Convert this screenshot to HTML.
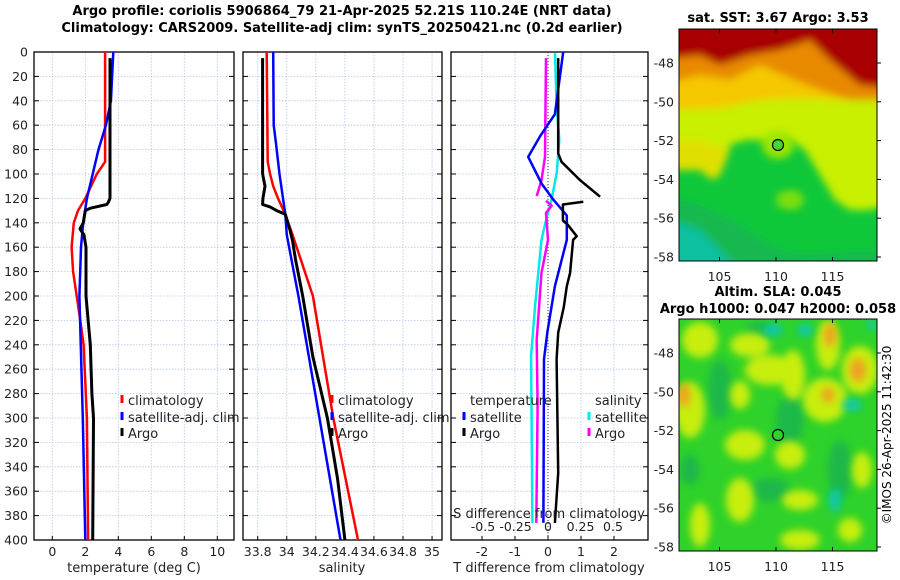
<!DOCTYPE html>
<html><head><meta charset="utf-8">
<style>
html,body{margin:0;padding:0;background:#fff;}
svg{display:block;font-family:"DejaVu Sans","Liberation Sans",sans-serif;}
</style></head>
<body>
<svg id="fig" width="900" height="580" viewBox="0 0 900 580" xmlns="http://www.w3.org/2000/svg">
<defs>
<filter id="blur1" x="-20%" y="-20%" width="140%" height="140%"><feGaussianBlur stdDeviation="4"/></filter>
<filter id="blur2" x="-20%" y="-20%" width="140%" height="140%"><feGaussianBlur stdDeviation="4"/></filter>
<clipPath id="m1clip"><rect x="679" y="29" width="198" height="232"/></clipPath>
<clipPath id="m2clip"><rect x="679" y="319" width="198" height="232"/></clipPath>
</defs>
<g font-weight="bold" font-size="13" text-anchor="middle">
<text x="342" y="15">Argo profile: coriolis 5906864_79 21-Apr-2025 52.21S 110.24E (NRT data)</text>
<text x="342" y="32">Climatology: CARS2009. Satellite-adj clim: synTS_20250421.nc (0.2d earlier)</text>
</g>
<g id="panels"></g>
<!-- Map 1: SST -->
<g>
<text x="778" y="22" text-anchor="middle" font-weight="bold" font-size="13">sat. SST: 3.67 Argo: 3.53</text>
<g clip-path="url(#m1clip)">
<rect x="679" y="29" width="198" height="232" fill="#0fc83a"/>
<g filter="url(#blur1)">
<path d="M660 160 L690 165 L700 150 L712 170 L720 175 L730 145 L745 140 L760 140 L775 145 L790 140 L805 150 L820 175 L835 200 L850 210 L865 210 L900 205 L900 0 L660 0 Z" fill="#c8f000"/>
<path d="M660 170 L700 170 L712 180 L720 175 L730 150 L700 140 L660 140 Z" fill="#e0e000"/>
<path d="M660 110 L720 108 L760 100 L800 98 L840 100 L900 100 L900 0 L660 0 Z" fill="#f5c800"/>
<path d="M660 85 L700 75 L730 80 L760 65 L790 78 L820 90 L850 100 L900 100 L900 0 L660 0 Z" fill="#e88a00"/>
<path d="M660 60 L700 55 L720 65 L750 55 L780 50 L810 40 L830 60 L860 85 L900 90 L900 0 L660 0 Z" fill="#a80000"/>
<path d="M660 195 L700 205 L720 215 L740 225 L760 240 L780 250 L800 255 L900 250 L900 300 L660 300 Z" fill="#14b850"/>
<path d="M660 215 L700 230 L720 250 L740 270 L660 290 Z" fill="#10c0a0"/>
</g>
<ellipse cx="778" cy="145" rx="16" ry="14" fill="#9ae600" filter="url(#blur2)"/>
<ellipse cx="790" cy="200" rx="14" ry="10" fill="#7ade10" filter="url(#blur2)"/>
</g>
<rect x="679" y="29" width="198" height="232" fill="none" stroke="#000" stroke-width="1"/>
<circle cx="778" cy="145" r="5.5" fill="#42d830" stroke="#000" stroke-width="1.2"/>
<g id="m1ticks"></g>
</g>
<!-- Map 2: SLA -->
<g>
<text x="778" y="296" text-anchor="middle" font-weight="bold" font-size="13">Altim. SLA: 0.045</text>
<text x="778" y="313" text-anchor="middle" font-weight="bold" font-size="13">Argo h1000: 0.047 h2000: 0.058</text>
<g clip-path="url(#m2clip)">
<rect x="679" y="319" width="198" height="232" fill="#2ed22a"/>
<g filter="url(#blur2)" fill="#1fb84a">
<ellipse cx="720" cy="390" rx="12" ry="30"/><ellipse cx="790" cy="420" rx="14" ry="25"/>
<ellipse cx="840" cy="470" rx="12" ry="30"/><ellipse cx="770" cy="490" rx="20" ry="12"/>
<ellipse cx="690" cy="470" rx="10" ry="15"/><ellipse cx="760" cy="330" rx="14" ry="8"/>
</g>
<g filter="url(#blur2)" fill="#c8ee10">
<ellipse cx="700" cy="340" rx="18" ry="18"/><ellipse cx="750" cy="345" rx="20" ry="12"/>
<ellipse cx="770" cy="370" rx="25" ry="15"/><ellipse cx="793" cy="375" rx="12" ry="25"/>
<ellipse cx="828" cy="345" rx="12" ry="25"/><ellipse cx="860" cy="370" rx="18" ry="24"/>
<ellipse cx="825" cy="400" rx="22" ry="22"/><ellipse cx="690" cy="410" rx="15" ry="28"/>
<ellipse cx="745" cy="445" rx="20" ry="15"/><ellipse cx="790" cy="455" rx="15" ry="14"/>
<ellipse cx="740" cy="500" rx="14" ry="22"/><ellipse cx="800" cy="500" rx="18" ry="10"/>
<ellipse cx="700" cy="525" rx="10" ry="22"/><ellipse cx="862" cy="470" rx="10" ry="18"/>
<ellipse cx="740" cy="395" rx="10" ry="14"/><ellipse cx="800" cy="540" rx="20" ry="10"/>
<ellipse cx="850" cy="530" rx="12" ry="12"/>
</g>
<g filter="url(#blur2)" fill="#f0a020">
<ellipse cx="684" cy="395" rx="6" ry="12"/><ellipse cx="830" cy="335" rx="6" ry="12"/>
<ellipse cx="858" cy="370" rx="8" ry="12"/><ellipse cx="828" cy="395" rx="6" ry="8"/>
</g>
<g filter="url(#blur2)" fill="#10c8b0">
<ellipse cx="773" cy="330" rx="10" ry="6"/><ellipse cx="805" cy="330" rx="8" ry="6"/>
<ellipse cx="852" cy="405" rx="10" ry="6"/><ellipse cx="835" cy="500" rx="6" ry="12"/>
<ellipse cx="872" cy="325" rx="5" ry="5"/>
</g>
</g>
<rect x="679" y="319" width="198" height="232" fill="none" stroke="#000" stroke-width="1"/>
<circle cx="778" cy="435" r="5.5" fill="#2ed22a" stroke="#000" stroke-width="1.2"/>
<g id="m2ticks"></g>
</g>
<text transform="translate(891,435) rotate(-90)" text-anchor="middle" font-size="12">©IMOS 26-Apr-2025 11:42:30</text>
</svg>
<script>
// ---------- data ----------
const depthTicks = [0,20,40,60,80,100,120,140,160,180,200,220,240,260,280,300,320,340,360,380,400];
const tempTicks = [0,2,4,6,8,10];
const salTicks = [33.8,34,34.2,34.4,34.6,34.8,35];
const tdiffTicks = [-2,-1,0,1,2];
const tdiffLabels = [-2,-1,0,1,2];
const sdiffTicks = [-0.5,-0.25,0,0.25,0.5];

const climTempDepth = [0,90,100,120,130,140,160,180,200,220,240,300,400];
const climTemp = [3.2,3.2,2.7,2.0,1.56,1.3,1.17,1.26,1.48,1.7,1.9,2.1,2.17];
const satTempDepth = [0,40,60,80,100,120,140,160,200,300,400];
const satTemp = [3.7,3.55,3.25,2.8,2.45,2.1,1.87,1.74,1.64,1.85,2.0];
const argoTempDepth = [5,50,120,123,125,128,130,140,145,150,160,200,240,280,300,400];
const argoTemp = [3.5,3.5,3.5,3.4,3.3,2.3,2.0,1.88,1.68,1.92,2.04,2.04,2.3,2.4,2.5,2.45];

const climSalDepth = [0,90,100,110,120,133,150,200,300,400];
const climSal = [33.862,33.869,33.885,33.907,33.94,33.99,34.04,34.18,34.32,34.49];
const satSalDepth = [0,60,75,100,133,150,200,400];
const satSal = [33.907,33.91,33.926,33.95,33.99,34.0,34.08,34.37];
const argoSalDepth = [5,100,110,120,125,127,130,133,145,155,170,200,250,300,350,400];
const argoSal = [33.834,33.834,33.85,33.836,33.834,33.885,33.93,33.99,34.02,34.04,34.06,34.11,34.18,34.28,34.35,34.40];

const satTdiffDepth = [0,51,69,86,108,121,134,154,192,230,252,386];
const satTdiff = [0.46,0.21,-0.24,-0.6,-0.19,0.16,0.57,0.57,0.21,-0.02,-0.12,-0.14];
const argoTdiffDepth1 = [5,83,90,105,118.6];
const argoTdiff1 = [0.31,0.31,0.41,0.97,1.58];
const argoTdiffDepth2 = [122.7,125,138,142,151,154,181,192,209,230,252,345,386];
const argoTdiff2 = [1.07,0.45,0.45,0.61,0.87,0.76,0.67,0.57,0.48,0.31,0.26,0.31,0.21];
const satSdiffDepth = [1,45,72,99,121,138,154,209,249,386];
const satSdiff = [0.054,0.067,0.087,0.067,0.028,-0.015,-0.05,-0.1,-0.13,-0.12];
const argoSdiffDepth1 = [5,86,105,118];
const argoSdiff1 = [-0.015,-0.023,-0.05,-0.087];
const argoSdiffDepth2 = [122,126,132,154,181,236,290,386];
const argoSdiff2 = [-0.015,0.028,-0.015,0.0,-0.05,-0.087,-0.08,-0.09];

const mapLonTicks = [105,110,115];
const mapLatTicks = [-48,-50,-52,-54,-56,-58];

// ---------- helpers ----------
const NS = "http://www.w3.org/2000/svg";
const Y0 = 52, Y1 = 540;
const yD = d => Y0 + (Y1 - Y0) * d / 400;
function mk(tag, attrs, parent){ const e = document.createElementNS(NS, tag); for (const k in attrs) e.setAttribute(k, attrs[k]); parent.appendChild(e); return e; }
const panelsG = document.getElementById('panels');

const panels = [
  {x0:34, x1:234, xs: v => 52.3 + v*16.5, ticks: tempTicks, name:'temperature-panel'},
  {x0:243, x1:442, xs: v => 257.7 + (v-33.8)*145.3, ticks: salTicks, name:'salinity-panel'},
  {x0:451, x1:648, xs: v => 548 + v*33, ticks: tdiffTicks, name:'difference-panel'}
];
const sX = v => 548 + v*130;

panels.forEach((p, i) => {
  const g = mk('g', {}, panelsG);
  
  
  depthTicks.forEach(d => {
    const l = mk('line', {x1:p.x0, x2:p.x1, y1:yD(d), y2:yD(d), stroke:'#b8c4ea', 'stroke-width':0.8, 'stroke-dasharray':'1.5,1.5'}, g);
    
    
  });
  p.ticks.forEach(t => {
    const l = mk('line', {x1:p.xs(t), x2:p.xs(t), y1:Y0, y2:Y1, stroke:'#b8c4ea', 'stroke-width':0.8, 'stroke-dasharray':'1.5,1.5'}, g);
    
    
  });
  depthTicks.forEach(d => {
    mk('line', {x1:p.x0, x2:p.x0+5, y1:yD(d), y2:yD(d), stroke:'#000'}, g);
    mk('line', {x1:p.x1-5, x2:p.x1, y1:yD(d), y2:yD(d), stroke:'#000'}, g);
  });
  p.ticks.forEach((t, j) => {
    mk('line', {x1:p.xs(t), x2:p.xs(t), y1:Y1, y2:Y1-4, stroke:'#000'}, g);
    const tx = mk('text', {x:p.xs(t), y:Y1+16, 'text-anchor':'middle', 'font-size':12.5, fill:'#222'}, g);
    tx.textContent = (i===2) ? tdiffLabels[j] : t;
    
    
  });
  const fr = mk('rect', {x:p.x0, y:Y0, width:p.x1-p.x0, height:Y1-Y0, fill:'none', stroke:'#000', 'stroke-width':1.3}, g);
  
  
});

depthTicks.forEach(d => {
  const t = mk('text', {x:28, y:yD(d)+4.5, 'text-anchor':'end', 'font-size':12.5, fill:'#222'}, panelsG);
  t.textContent = d;
  
  
});

function line(xsArr, ds, xs, color, w, name, dash){
  const pts = xsArr.map((v, k) => xs(v).toFixed(1) + ',' + yD(ds[k]).toFixed(1)).join(' ');
  const pl = mk('polyline', {points:pts, fill:'none', stroke:color, 'stroke-width':w, 'stroke-linejoin':'round'}, panelsG);
  if (dash) pl.setAttribute('stroke-dasharray', dash);
  
  
}
const P = panels;
const zl = mk('line', {x1:548, x2:548, y1:Y0, y2:Y1, stroke:'#333', 'stroke-width':1, 'stroke-dasharray':'1,2'}, panelsG);



line(climTemp, climTempDepth, P[0].xs, '#ff0000', 2.5, 'climatology-temperature-line');
line(satTemp, satTempDepth, P[0].xs, '#0000ff', 2.5, 'satellite-temperature-line');
line(argoTemp, argoTempDepth, P[0].xs, '#000', 3, 'argo-temperature-line');
line(climSal, climSalDepth, P[1].xs, '#ff0000', 2.5, 'climatology-salinity-line');
line(satSal, satSalDepth, P[1].xs, '#0000ff', 2.5, 'satellite-salinity-line');
line(argoSal, argoSalDepth, P[1].xs, '#000', 3, 'argo-salinity-line');
line(satSdiff, satSdiffDepth, sX, '#00e8e8', 2.5, 'satellite-salinity-diff-line');
line(argoSdiff1, argoSdiffDepth1, sX, '#ff00ff', 2.5, 'argo-salinity-diff-line-upper');
line(argoSdiff2, argoSdiffDepth2, sX, '#ff00ff', 2.5, 'argo-salinity-diff-line-lower');
line(satTdiff, satTdiffDepth, P[2].xs, '#0000ff', 2.5, 'satellite-temperature-diff-line');
line(argoTdiff1, argoTdiffDepth1, P[2].xs, '#000', 2.5, 'argo-temperature-diff-line-upper');
line(argoTdiff2, argoTdiffDepth2, P[2].xs, '#000', 2.5, 'argo-temperature-diff-line-lower');

sdiffTicks.forEach(s => {
  const t = mk('text', {x:sX(s), y:531, 'text-anchor':'middle', 'font-size':12.5, fill:'#222'}, panelsG);
  t.textContent = s;
  
  
});

function txt(x, y, s, name, anchor, size){
  const t = mk('text', {x:x, y:y, 'text-anchor':anchor||'start', 'font-size':size||13, fill:'#222'}, panelsG);
  t.textContent = s;
  
  
}
txt(134, 572, 'temperature (deg C)', 'temperature-axis-title', 'middle');
txt(342, 572, 'salinity', 'salinity-axis-title', 'middle');
txt(549, 572, 'T difference from climatology', 'tdiff-axis-title', 'middle');
txt(549, 518, 'S difference from climatology', 'sdiff-axis-title', 'middle');

function legend(x, y, color, label, name){
  const r = mk('rect', {x:x-1.5, y:y-10, width:3, height:8, fill:color}, panelsG);
  
  
  txt(x+6, y, label, name);
}
legend(122, 405, '#ff0000', 'climatology', 'legend-climatology-temp');
legend(122, 422, '#0000ff', 'satellite-adj. clim', 'legend-satellite-temp');
legend(122, 438, '#000', 'Argo', 'legend-argo-temp');
legend(332, 405, '#ff0000', 'climatology', 'legend-climatology-sal');
legend(332, 422, '#0000ff', 'satellite-adj. clim', 'legend-satellite-sal');
legend(332, 438, '#000', 'Argo', 'legend-argo-sal');
txt(470, 405, 'temperature', 'legend-temperature-heading');
legend(464, 422, '#0000ff', 'satellite', 'legend-satellite-tdiff');
legend(464, 438, '#000', 'Argo', 'legend-argo-tdiff');
txt(595, 405, 'salinity', 'legend-salinity-heading');
legend(589, 422, '#00e8e8', 'satellite', 'legend-satellite-sdiff');
legend(589, 438, '#ff00ff', 'Argo', 'legend-argo-sdiff');

function mapTicks(gid, top, lat0){
  const g = document.getElementById(gid);
  const lonX = lon => 776 + (lon-110)*11.3;
  const latY = lat => lat0 + (-48-lat)*19.4;
  mapLonTicks.forEach(l => {
    mk('line', {x1:lonX(l), x2:lonX(l), y1:top, y2:top+4, stroke:'#000'}, g);
    mk('line', {x1:lonX(l), x2:lonX(l), y1:top+232, y2:top+228, stroke:'#000'}, g);
    const t = mk('text', {x:lonX(l), y:top+252, 'text-anchor':'middle', 'font-size':12.5, fill:'#222'}, g);
    t.textContent = l;
    
    
  });
  mapLatTicks.forEach(l => {
    mk('line', {x1:877, x2:881, y1:latY(l), y2:latY(l), stroke:'#000'}, g);
    const t = mk('text', {x:674, y:latY(l)+4.5, 'text-anchor':'end', 'font-size':12.5, fill:'#222'}, g);
    t.textContent = l;
    
    
  });
}
mapTicks('m1ticks', 29, 63);
mapTicks('m2ticks', 319, 353);
</script>
</body></html>
